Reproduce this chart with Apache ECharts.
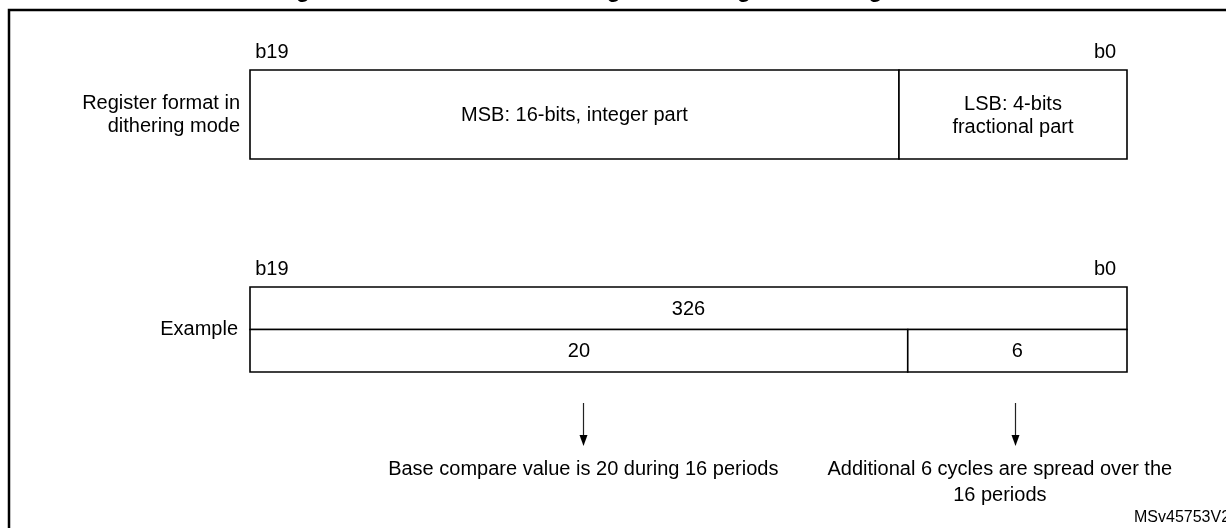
<!DOCTYPE html>
<html><head><meta charset="utf-8">
<script src="https://cdn.jsdelivr.net/npm/echarts@6/dist/echarts.min.js"></script>
<style>html,body{margin:0;padding:0;background:#fff}#c{width:1226px;height:528px}</style>
</head><body><div id="c"></div>
<script>
// ---- data ----
const titleText = 'Figure 223. Data format and register coding in dithering mode';
const rowLabelsTop = ['Register format in\ndithering mode'];
const rowLabelsExample = ['Example'];
const bitLabels = ['b19', 'b0'];
const bitLabelPos = [19.5, 0.5];           // bit centres
const regFields = [                         // [fromBit, toBit, text]
  [20, 5.2, 'MSB: 16-bits, integer part'],
  [5.2, 0, 'LSB: 4-bits\nfractional part']
];
const exampleTotal = [[20, 0, '326']];
const exampleSplit = [[20, 5, '20'], [5, 0, '6']];
const arrowPos = [12.4, 2.55];
const noteTextPos = [12.4, 2.9];
const noteText = ['Base compare value is 20 during 16 periods', 'Additional 6 cycles are spread over the\n16 periods'];
const figureId = 'MSv45753V2';

// ---- chart ----
const FONT = '"Liberation Sans", Arial, sans-serif';
const FS = 20;
const chart = echarts.init(document.getElementById('c'), null, {renderer: 'canvas'});

function fieldSeries(fields, gi, sub, nsub) {
  return {
    type: 'custom', coordinateSystem: 'cartesian2d', xAxisIndex: gi, yAxisIndex: gi, clip: false,
    data: fields.map(f => [f[0], f[1], 0]),
    encode: {x: [0, 1], y: 2},
    renderItem(params, api) {
      const p0 = api.coord([api.value(0), 0]);
      const p1 = api.coord([api.value(1), 0]);
      const bandH = api.size([0, 1])[1];
      const h = bandH / nsub;
      const top = p0[1] - bandH / 2 + h * sub;
      const f = fields[params.dataIndex];
      return {type: 'group', children: [
        {type: 'rect', shape: {x: p0[0], y: top, width: p1[0] - p0[0], height: h},
         style: {fill: '#fff', stroke: '#000', lineWidth: 1.6}},
        {type: 'text', style: {text: f[2], x: (p0[0] + p1[0]) / 2, y: top + h / 2 + 1, align: 'center',
         verticalAlign: 'middle', fontSize: FS, fontFamily: FONT, fill: '#000', lineHeight: 23}}
      ]};
    }
  };
}

function bitLabelSeries(gi) {
  return {
    type: 'custom', coordinateSystem: 'cartesian2d', xAxisIndex: gi, yAxisIndex: gi, clip: false,
    data: bitLabelPos.map(p => [p, 0]),
    renderItem(params, api) {
      const p = api.coord([api.value(0), 0]);
      const bandH = api.size([0, 1])[1];
      return {type: 'text', style: {text: bitLabels[params.dataIndex], x: p[0], y: p[1] - bandH / 2 - 18,
        align: 'center', verticalAlign: 'middle', fontSize: FS, fontFamily: FONT, fill: '#000'}};
    }
  };
}

const noteSeries = {
  type: 'custom', coordinateSystem: 'cartesian2d', xAxisIndex: 1, yAxisIndex: 1, clip: false,
  data: arrowPos.map((p, i) => [p, noteTextPos[i], 0]),
  encode: {x: [0, 1], y: 2},
  renderItem(params, api) {
    const p = api.coord([api.value(0), 0]);
    const pt = api.coord([api.value(1), 0]);
    const bandH = api.size([0, 1])[1];
    const bottom = p[1] + bandH / 2;
    const x = Math.round(p[0]) + 0.5;
    const y0 = bottom + 31, y1 = bottom + 74;
    return {type: 'group', children: [
      {type: 'line', shape: {x1: x, y1: y0, x2: x, y2: y1 - 8}, style: {stroke: '#222', lineWidth: 1.2}},
      {type: 'polygon', shape: {points: [[x - 4, y1 - 11], [x + 4, y1 - 11], [x, y1]]}, style: {fill: '#000'}},
      {type: 'text', style: {text: noteText[params.dataIndex], x: pt[0], y: bottom + 84, align: 'center',
        verticalAlign: 'top', fontSize: FS, fontFamily: FONT, fill: '#000', lineHeight: 26}}
    ]};
  }
};

const xAxisBase = {type: 'value', min: 0, max: 20, inverse: true, show: false};
const yAxisBase = {
  type: 'category', axisLine: {show: false}, axisTick: {show: false}, splitLine: {show: false},
  axisLabel: {fontSize: FS, fontFamily: FONT, color: '#000', lineHeight: 23, margin: 10, align: 'right'}
};

chart.setOption({
  animation: false,
  backgroundColor: '#fff',
  title: {text: titleText, left: 'center', top: -26,
    textStyle: {fontSize: 23, fontWeight: 'bold', fontFamily: FONT, color: '#000'}},
  grid: [
    {left: 250, right: 99, top: 70, height: 89},
    {left: 250, right: 99, top: 287, height: 85}
  ],
  xAxis: [Object.assign({gridIndex: 0}, xAxisBase), Object.assign({gridIndex: 1}, xAxisBase)],
  yAxis: [
    Object.assign({}, yAxisBase, {gridIndex: 0, data: rowLabelsTop}),
    Object.assign({}, yAxisBase, {gridIndex: 1, data: rowLabelsExample, axisLabel: Object.assign({}, yAxisBase.axisLabel, {margin: 12})})
  ],
  graphic: [
    {type: 'rect', z: -10, silent: true, shape: {x: 9, y: 10, width: 1260, height: 560},
     style: {fill: 'transparent', stroke: '#000', lineWidth: 2.5}},
    {type: 'text', silent: true, style: {text: figureId, x: 1134, y: 518, verticalAlign: 'middle',
     fontSize: 16, fontFamily: FONT, fill: '#000'}}
  ],
  series: [
    fieldSeries(regFields, 0, 0, 1),
    bitLabelSeries(0),
    fieldSeries(exampleTotal, 1, 0, 2),
    fieldSeries(exampleSplit, 1, 1, 2),
    bitLabelSeries(1),
    noteSeries
  ]
});
</script>
</body></html>
